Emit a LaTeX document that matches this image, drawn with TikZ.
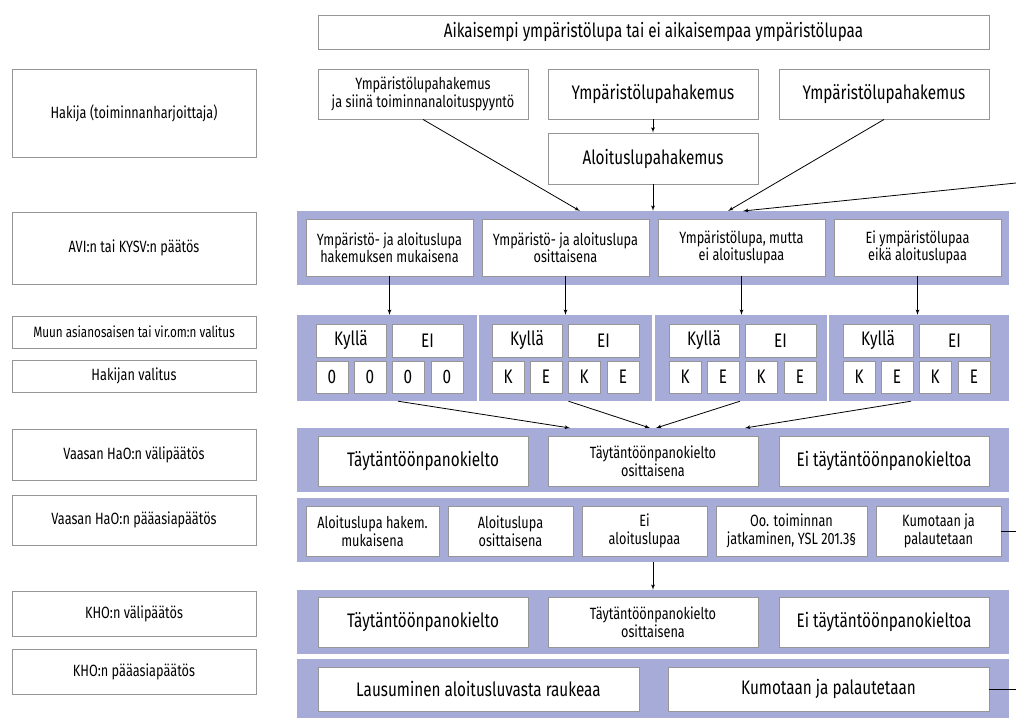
\documentclass[tikz,border=0pt]{standalone}
\usepackage{fontspec}
\setmainfont[FakeStretch=0.78]{Fira Sans}
\usetikzlibrary{arrows}

\definecolor{bandblue}{RGB}{166,171,216}
\definecolor{boxgray}{RGB}{150,150,150}
\newcommand{\bigtxt}{\fontsize{19.6}{21}\selectfont}
\newcommand{\smalltxt}{\fontsize{16.3}{17.5}\selectfont}

\begin{document}
\begin{tikzpicture}[x=1pt,y=-1pt]

\tikzset{sz/.style 2 args = {minimum width=#1pt,minimum height=#2pt}}
\tikzset{box/.style = {shape=rectangle,draw=boxgray,fill=white,line width=0.9pt,inner sep=0pt,align=center,font=\smalltxt}}
\tikzset{bigbox/.style = {box,font=\bigtxt}}
\tikzset{band/.style = {shape=rectangle,fill=bandblue,inner sep=0pt}}
\tikzset{edge/.style = {->,> = latex',line width=0.8pt}}

\useasboundingbox (0,0) rectangle (1016,718);

% bands
\node[band, sz={712}{74}] (avi) at (653,248) {};
\node[band, sz={180}{86}] (ky1) at (387,358) {};
\node[band, sz={173}{86}] (ky2) at (565.5,358) {};
\node[band, sz={172}{86}] (ky3) at (741,358) {};
\node[band, sz={180}{86}] (ky4) at (919,358) {};
\node[band, sz={712}{64}] (vv) at (653,460) {};
\node[band, sz={712}{64}] (vp) at (653,530) {};
\node[band, sz={712}{64}] (kv) at (653,622) {};
\node[band, sz={712}{59}] (kp) at (653,688.5) {};

% row labels
\node[box, sz={244}{88}] (hak) at (134,113) {Hakija (toiminnanharjoittaja)};
\node[box, sz={244}{72}] (avil) at (134,248) {AVI:n tai KYSV:n päätös};
\node[box, sz={244}{32}, font=\fontsize{15}{17}\selectfont] (muun) at (134,332) {Muun asianosaisen tai vir.om:n valitus};
\node[box, sz={244}{32}] (hval) at (134,376) {Hakijan valitus};
\node[box, sz={244}{51}] (vvl) at (134,454.5) {Vaasan HaO:n välipäätös};
\node[box, sz={244}{50}] (vpl) at (134,520) {Vaasan HaO:n pääasiapäätös};
\node[box, sz={244}{45}] (kvl) at (134,613.5) {KHO:n välipäätös};
\node[box, sz={244}{45}] (kpl) at (134,671.5) {KHO:n pääasiapäätös};

% applications
\node[box, sz={671}{34}, font=\fontsize{19.5}{21}\selectfont] (aik) at (653.5,32) {Aikaisempi ympäristölupa tai ei aikaisempaa ympäristölupaa};
\node[box, sz={210}{50}] (yh1) at (423,94) {Ympäristölupahakemus\\ja siinä toiminnanaloituspyyntö};
\node[bigbox, sz={210}{50}] (yh2) at (653,94) {Ympäristölupahakemus};
\node[bigbox, sz={210}{50}] (yh3) at (884,94) {Ympäristölupahakemus};
\node[bigbox, sz={210}{51}] (alh) at (653,158.5) {Aloituslupahakemus};

% AVI decisions
\node[box, sz={167}{57}] (av1) at (389.5,247.5) {Ympäristö- ja aloituslupa\\hakemuksen mukaisena};
\node[box, sz={167}{57}] (av2) at (565.5,247.5) {Ympäristö- ja aloituslupa\\osittaisena};
\node[box, sz={167}{57}] (av3) at (741.5,247.5) {Ympäristölupa, mutta\\ei aloituslupaa};
\node[box, sz={167}{57}] (av4) at (917.5,247.5) {Ei ympäristölupaa\\eikä aloituslupaa};

% appeals
\node[bigbox, sz={70}{33}] (k1) at (351,340.5) {Kyllä};
\node[bigbox, sz={71}{33}] (e1) at (427.5,340.5) {EI};
\node[bigbox, sz={32}{32}] (s11) at (332,377) {0};
\node[bigbox, sz={32}{32}] (s12) at (370,377) {0};
\node[bigbox, sz={32}{32}] (s13) at (408,377) {0};
\node[bigbox, sz={32}{32}] (s14) at (447,377) {0};
\node[bigbox, sz={70}{33}] (k2) at (527,340.5) {Kyllä};
\node[bigbox, sz={71}{33}] (e2) at (603.5,340.5) {EI};
\node[bigbox, sz={32}{32}] (s21) at (508,377) {K};
\node[bigbox, sz={32}{32}] (s22) at (546,377) {E};
\node[bigbox, sz={32}{32}] (s23) at (584,377) {K};
\node[bigbox, sz={32}{32}] (s24) at (623,377) {E};
\node[bigbox, sz={70}{33}] (k3) at (704,340.5) {Kyllä};
\node[bigbox, sz={71}{33}] (e3) at (780.5,340.5) {EI};
\node[bigbox, sz={32}{32}] (s31) at (685,377) {K};
\node[bigbox, sz={32}{32}] (s32) at (723,377) {E};
\node[bigbox, sz={32}{32}] (s33) at (761,377) {K};
\node[bigbox, sz={32}{32}] (s34) at (800,377) {E};
\node[bigbox, sz={70}{33}] (k4) at (878,340.5) {Kyllä};
\node[bigbox, sz={71}{33}] (e4) at (954.5,340.5) {EI};
\node[bigbox, sz={32}{32}] (s41) at (859,377) {K};
\node[bigbox, sz={32}{32}] (s42) at (897,377) {E};
\node[bigbox, sz={32}{32}] (s43) at (935,377) {K};
\node[bigbox, sz={32}{32}] (s44) at (974,377) {E};

% Vaasa HaO
\node[bigbox, sz={210}{50}] (vv1) at (423,461) {Täytäntöönpanokielto};
\node[box, sz={210}{50}] (vv2) at (653,461) {Täytäntöönpanokielto\\osittaisena};
\node[bigbox, sz={210}{50}] (vv3) at (884,461) {Ei täytäntöönpanokieltoa};
\node[box, sz={133}{50}] (vp1) at (372.5,531) {Aloituslupa hakem.\\mukaisena};
\node[box, sz={125}{50}] (vp2) at (510.5,531) {Aloituslupa\\osittaisena};
\node[box, sz={125}{50}] (vp3) at (644.5,531) {Ei\\aloituslupaa};
\node[box, sz={151}{50}] (vp4) at (791.5,531) {Oo. toiminnan\\jatkaminen, YSL 201.3§};
\node[box, sz={125}{50}] (vp5) at (938.5,531) {Kumotaan ja\\palautetaan};

% KHO
\node[bigbox, sz={210}{50}] (kv1) at (423,622) {Täytäntöönpanokielto};
\node[box, sz={210}{50}] (kv2) at (653,622) {Täytäntöönpanokielto\\osittaisena};
\node[bigbox, sz={210}{50}] (kv3) at (884,622) {Ei täytäntöönpanokieltoa};
\node[bigbox, sz={321}{44}] (kp1) at (478.5,689) {Lausuminen aloitusluvasta raukeaa};
\node[bigbox, sz={321}{44}] (kp2) at (828.5,689) {Kumotaan ja palautetaan};

% free ends
\coordinate (in1) at (580,211);
\coordinate (in3) at (728,211);
\coordinate (in4) at (743,211);
\coordinate (back1) at (1016,183);
\coordinate (to1) at (570,428);
\coordinate (to2) at (650,428);
\coordinate (to3) at (656,428);
\coordinate (to4) at (745,428);
\coordinate (out1) at (1016,531);
\coordinate (out2) at (1016,689);

%edges
\draw[edge] (yh1.south) -- (in1);
\draw[edge] (yh2) -- (alh);
\draw[edge] (alh) -- (avi.north);
\draw[edge] (yh3.south) -- (in3);
\draw[edge] (back1) -- (in4);
\draw[edge] (av1.south) -- (av1.south |- ky1.north);
\draw[edge] (av2.south) -- (av2.south |- ky2.north);
\draw[edge] (av3.south) -- (av3.south |- ky3.north);
\draw[edge] (av4.south) -- (av4.south |- ky4.north);
\draw[edge] ([xshift=11pt]ky1.south) -- (to1);
\draw[edge] ([xshift=3pt]ky2.south) -- (to2);
\draw[edge] ([xshift=-1pt]ky3.south) -- (to3);
\draw[edge] ([xshift=-8pt]ky4.south) -- (to4);
\draw[edge] (vp.south) -- (kv.north);
\draw[line width=0.8pt] (vp5.east) -- (out1);
\draw[line width=0.8pt] (kp2.east) -- (out2);

\end{tikzpicture}
\end{document}
